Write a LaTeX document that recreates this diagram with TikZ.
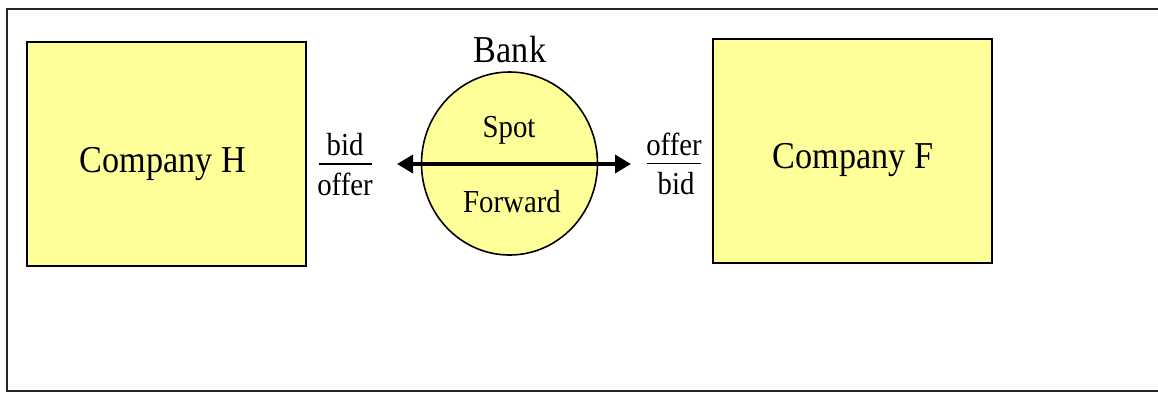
\documentclass[tikz,border=0pt]{standalone}
\usepackage{fontspec}
\setmainfont{Liberation Serif}[FakeStretch=0.9]
\usetikzlibrary{arrows.meta,shapes.geometric}

\definecolor{paleyellow}{RGB}{255,255,153}

\tikzset{
  party/.style={draw=black, line width=2pt, fill=paleyellow, inner sep=0pt},
  bigtext/.style={font=\fontsize{38}{44}\selectfont, inner sep=0pt, anchor=base},
  smalltext/.style={font=\fontsize{32}{38}\selectfont, inner sep=0pt, anchor=base},
  fracbar/.style={line width=1.5pt},
  quote/.style={line width=3.5pt, {Triangle[length=16pt,width=18pt]}-{Triangle[length=16pt,width=18pt]}},
}

\begin{document}
\begin{tikzpicture}[x=1pt,y=-1pt]
  \useasboundingbox (0,0) rectangle (1158,392);
  \fill[white] (0,0) rectangle (1158,392);

  % outer frame (runs off the right edge)
  \draw[line width=2pt, black!85] (1170,9) -- (7,9) -- (7,391) -- (1170,391);

  % the two companies
  \node[party, minimum width=279pt, minimum height=224pt] (H) at (166.5,154) {};
  \node[party, minimum width=279pt, minimum height=224pt] (F) at (852.5,151) {};
  \node[bigtext] (Hlbl) at (163,172) {Company H};
  \node[bigtext] (Flbl) at (853,168) {Company F};

  % the bank
  \node[party, ellipse, line width=1.6pt, minimum width=176pt, minimum height=183pt] (bank) at (509.5,163.5) {};
  \node[bigtext] (banklbl) at (510,62) {Bank};
  \node[smalltext] (spot) at (509,137) {Spot};
  \node[smalltext] (fwd) at (512,212) {Forward};

  % two-way quote arrow across the bank
  \coordinate (qL) at (397,164);
  \coordinate (qR) at (631,164);
  \draw[quote] (qL) -- (qR);

  % quote fractions
  \node[smalltext] (bidH) at (345,155) {bid};
  \node[smalltext] (offerH) at (345,195) {offer};
  \draw[fracbar] (319,164) -- (372,164);

  \node[smalltext] (offerF) at (674,155) {offer};
  \node[smalltext] (bidF) at (676,194) {bid};
  \draw[fracbar] (647,163.5) -- (701,163.5);
\end{tikzpicture}
\end{document}
